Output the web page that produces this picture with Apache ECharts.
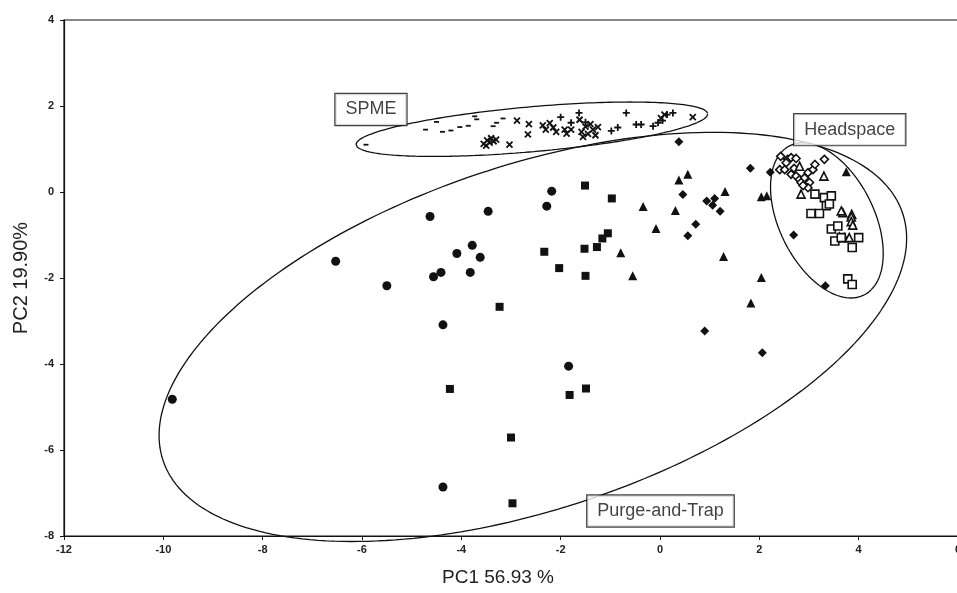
<!DOCTYPE html>
<html>
<head>
<meta charset="utf-8">
<script src="https://cdn.jsdelivr.net/npm/echarts@6/dist/echarts.min.js"></script>
<style>html,body{margin:0;padding:0;background:#fff}#c{width:957px;height:593px}</style>
</head>
<body>
<div id="c"></div>
<script>
// ---- data (PC1, PC2) ----
const spmeDash = [[-5.92,1.10],[-4.72,1.45],[-4.50,1.63],[-4.38,1.40],[-4.21,1.43],[-4.03,1.51],[-3.86,1.54],[-3.73,1.76],[-3.69,1.69],[-3.36,1.53],[-3.29,1.61],[-3.16,1.71]];
const spmeCross = [[-3.55,1.12],[-3.48,1.20],[-3.43,1.15],[-3.40,1.25],[-3.35,1.18],[-3.30,1.22],[-3.50,1.08],[-3.03,1.10],[-2.88,1.66],[-2.64,1.58],[-2.66,1.34],[-2.36,1.55],[-2.30,1.45],[-2.22,1.60],[-2.15,1.50],[-2.09,1.40],[-1.92,1.45],[-1.79,1.45],[-1.62,1.68],[-1.58,1.40],[-1.50,1.52],[-1.45,1.35],[-1.40,1.58],[-1.35,1.45],[-1.30,1.32],[-1.25,1.51],[-1.55,1.28],[-1.88,1.36],[0.02,1.72],[0.09,1.80],[0.66,1.74]];
const spmePlus = [[-2.00,1.74],[-1.79,1.61],[-1.63,1.84],[-0.98,1.42],[-0.85,1.50],[-0.68,1.84],[-0.48,1.57],[-0.38,1.57],[-0.14,1.53],[-0.04,1.61],[0.05,1.66],[0.14,1.80],[0.26,1.84],[-1.50,1.62]];
const ptCircle = [[-9.82,-4.82],[-6.53,-1.61],[-5.50,-2.18],[-4.63,-0.57],[-3.46,-0.45],[-2.28,-0.33],[-2.18,0.02],[-4.09,-1.43],[-3.78,-1.24],[-3.62,-1.52],[-4.56,-1.97],[-4.41,-1.87],[-3.82,-1.87],[-4.37,-3.09],[-4.37,-6.86],[-1.84,-4.05]];
const ptSquare = [[-2.33,-1.39],[-3.23,-2.67],[-4.23,-4.58],[-3.00,-5.71],[-2.97,-7.24],[-1.51,0.15],[-0.97,-0.15],[-1.05,-0.96],[-1.16,-1.08],[-1.27,-1.28],[-1.52,-1.32],[-2.03,-1.77],[-1.50,-1.95],[-1.82,-4.72],[-1.49,-4.57]];
const ptTriangle = [[-0.34,-0.34],[-0.08,-0.85],[-0.79,-1.41],[-0.55,-1.95],[0.31,-0.43],[0.38,0.28],[0.56,0.41],[1.31,0.01],[1.28,-1.50],[2.04,-1.99],[1.83,-2.58],[2.04,-0.11],[2.15,-0.09],[3.75,0.47],[3.61,-1.02]];
const ptDiamond = [[0.38,1.17],[0.46,-0.06],[0.94,-0.21],[1.10,-0.15],[1.06,-0.31],[1.21,-0.45],[0.72,-0.75],[0.56,-1.02],[1.82,0.55],[2.22,0.46],[0.90,-3.23],[2.06,-3.74],[3.33,-2.18],[2.69,-1.00]];
const hsDiamond = [[2.43,0.83],[2.57,0.76],[2.64,0.80],[2.74,0.78],[2.54,0.68],[2.41,0.52],[2.51,0.52],[2.64,0.41],[2.74,0.37],[2.81,0.29],[2.91,0.33],[2.84,0.22],[2.98,0.45],[3.08,0.52],[3.12,0.64],[3.31,0.76],[3.01,0.22],[2.98,0.10],[2.70,0.55],[2.88,0.15]];
const hsTriangle = [[2.81,0.60],[3.30,0.37],[2.84,-0.05],[3.38,-0.13],[3.68,-0.48],[3.86,-0.52],[3.65,-0.44],[3.85,-0.58],[3.85,-0.69],[3.88,-0.77],[3.71,-1.06],[3.81,-1.06]];
const hsSquare = [[3.12,-0.05],[3.31,-0.13],[3.45,-0.09],[3.35,-0.32],[3.41,-0.28],[3.04,-0.50],[3.21,-0.50],[3.45,-0.86],[3.58,-0.79],[3.52,-1.14],[3.65,-1.06],[4.00,-1.06],[3.87,-1.29],[3.78,-2.02],[3.87,-2.15]];

// group ellipses: centre, semi-major vector, semi-minor vector (data units)
const ellSPME = {c:[-2.58,1.46], a:[3.54,0.36], b:[0.04,-0.52]};
const ellHS = {c:[3.36,-0.66], a:[0.74,-1.74], b:[0.86,0.48]};
const ellPT = {c:[-2.56,-3.37], a:[7.445,2.877], b:[1.10,-3.79]};

const groupLabels = ['SPME','Headspace','Purge-and-Trap'];
const groupLabelPos = [[-5.82,1.92],[3.82,1.45],[0.01,-7.42]];

const xTicks = {min:-12, max:6, step:2};
const yTicks = {min:-8, max:4, step:2};

function ellipsePts(e){
  const n = 240, out = [];
  for(let i=0;i<=n;i++){
    const t = 2*Math.PI*i/n;
    out.push([e.c[0]+Math.cos(t)*e.a[0]+Math.sin(t)*e.b[0], e.c[1]+Math.cos(t)*e.a[1]+Math.sin(t)*e.b[1]]);
  }
  return out;
}

const FONT = 'Liberation Sans, Arial, Helvetica, sans-serif';
const filled = {color:'#111', opacity:1};
const open = {color:'#fff', borderColor:'#111', borderWidth:1.6, opacity:1};
const stroke = {color:'transparent', borderColor:'#111', borderWidth:1.8, opacity:1};

function sc(name, data, symbol, size, style, z){
  return {type:'scatter', name, data, symbol, symbolSize:size, itemStyle:style, z:z||5, silent:true};
}
function ell(name, e){
  return {type:'line', name, data:ellipsePts(e), showSymbol:false, symbol:'none', smooth:false, clip:false,
    lineStyle:{color:'#111', width:1.3}, z:3, silent:true};
}

const chart = echarts.init(document.getElementById('c'));
chart.setOption({
  animation:false,
  backgroundColor:'#fff',
  grid:{left:64, right:-1, top:20, bottom:57, show:true, borderColor:'#111', borderWidth:1.2,
    outerBoundsMode:'none', containLabel:false},
  xAxis:{type:'value', min:xTicks.min, max:xTicks.max, interval:xTicks.step,
    name:'PC1 56.93 %', nameLocation:'middle', nameGap:32,
    nameTextStyle:{fontFamily:FONT, fontSize:19, color:'#222', padding:[0,26,0,0]},
    axisLine:{onZero:false, lineStyle:{color:'#111', width:1.2}}, axisTick:{length:4, lineStyle:{color:'#111'}},
    axisLabel:{fontFamily:FONT, fontSize:11, fontWeight:'bold', color:'#222', margin:8},
    splitLine:{show:false}},
  yAxis:{type:'value', min:yTicks.min, max:yTicks.max, interval:yTicks.step,
    name:'PC2 19.90%', nameLocation:'middle', nameGap:33, nameRotate:90,
    nameTextStyle:{fontFamily:FONT, fontSize:20, color:'#222'},
    axisLine:{onZero:false, lineStyle:{color:'#111', width:1.2}}, axisTick:{length:4, lineStyle:{color:'#111'}},
    axisLabel:{fontFamily:FONT, fontSize:11, fontWeight:'bold', color:'#222', margin:10},
    splitLine:{show:false}},
  series:[
    ell('SPME ellipse', ellSPME),
    ell('Headspace ellipse', ellHS),
    ell('P&T ellipse', ellPT),
    sc('SPME dash', spmeDash, 'rect', [5,1.8], filled),
    sc('SPME x', spmeCross, 'path://M0,0L10,10M10,0L0,10', 6, stroke),
    sc('SPME +', spmePlus, 'path://M5,0L5,10M0,5L10,5', 7, stroke),
    sc('P&T circle', ptCircle, 'circle', 9, filled),
    sc('P&T square', ptSquare, 'rect', 8, filled),
    sc('P&T triangle', ptTriangle, 'triangle', 9, filled),
    sc('P&T diamond', ptDiamond, 'diamond', 9, filled),
    sc('HS diamond', hsDiamond, 'diamond', 8, open, 6),
    sc('HS triangle', hsTriangle, 'triangle', 8, open, 6),
    sc('HS square', hsSquare, 'rect', 8, open, 6),
    {type:'scatter', name:'labels', symbolSize:0, z:10, silent:true,
      data: groupLabels.map((n,i)=>({name:n, value:groupLabelPos[i]})),
      label:{show:true, position:'inside', formatter:'{b}', fontFamily:FONT, fontSize:18, color:'#111',
        backgroundColor:'#fff', borderColor:'#111', borderWidth:1.2, padding:[7,10,6,10]}}
  ]
});
</script>
</body>
</html>
